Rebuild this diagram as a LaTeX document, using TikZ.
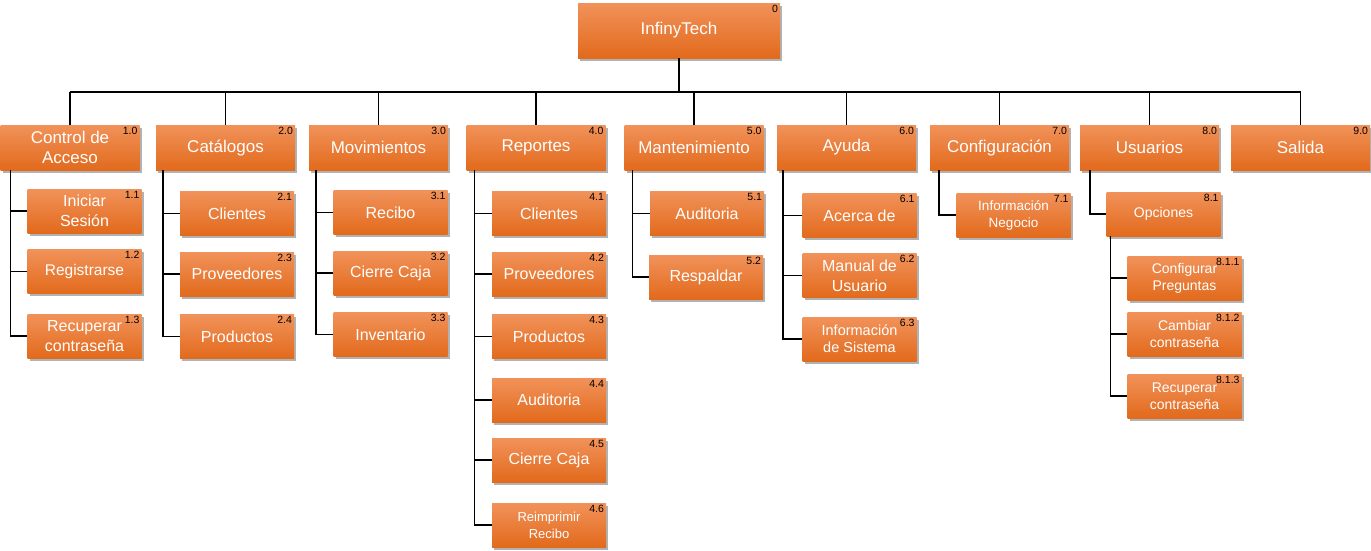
\documentclass[tikz,border=0pt]{standalone}
\usepackage{fontspec}
\setmainfont{Liberation Sans}
\usetikzlibrary{shadows,positioning}
\definecolor{orangetop}{RGB}{241,146,90}
\definecolor{orangemid}{RGB}{244,124,40}
\definecolor{orangebot}{RGB}{226,106,28}
\tikzset{
  menubox/.style={
    rectangle,
    top color=orangetop,
    middle color=orangemid,
    bottom color=orangebot,
    text=white,
    align=center,
    inner sep=1pt,
    drop shadow={shadow xshift=2pt,shadow yshift=-2.5pt,opacity=0.3,fill=black},
    font=\fontsize{16}{20}\selectfont
  },
  rootbox/.style={menubox,minimum width=202pt,minimum height=55pt,font=\fontsize{17}{20}\selectfont},
  mainbox/.style={menubox,minimum width=139pt,minimum height=45pt,font=\fontsize{17}{20}\selectfont},
  subbox/.style={menubox,minimum width=114pt,minimum height=44pt},
  smalltext/.style={font=\fontsize{#1}{17}\selectfont},
  numtag/.style={font=\fontsize{10.5}{11}\selectfont,text=black,inner sep=2pt},
  num/.style={label={[numtag,anchor=north east]north east:#1}},
  link/.style={draw=black,line width=1.6pt}
}

\begin{document}
\begin{tikzpicture}[x=1pt,y=-1pt]
  \useasboundingbox (0,0) rectangle (1371,550);

  % top
  \node[rootbox,num=0] (root) at (679,30.5) {InfinyTech};

  % first level
  \node[mainbox,num=1.0] (acc) at (70,147.5) {Control de\\Acceso};
  \node[mainbox,num=2.0] (cat) at (225.5,147.5) {Catálogos};
  \node[mainbox,num=3.0] (mov) at (378.5,147.5) {Movimientos};
  \node[mainbox,num=4.0] (rep) at (536,147.5) {Reportes};
  \node[mainbox,num=5.0] (man) at (694,147.5) {Mantenimiento};
  \node[mainbox,num=6.0] (ayu) at (846.5,147.5) {Ayuda};
  \node[mainbox,num=7.0] (con) at (999.5,147.5) {Configuración};
  \node[mainbox,num=8.0] (usu) at (1149.5,147.5) {Usuarios};
  \node[mainbox,num=9.0] (sal) at (1300.5,147.5) {Salida};

  % second level
  \node[subbox,num=1.1] (acc1) at (84.5,211) {Iniciar\\Sesión};
  \node[subbox,num=1.2,smalltext=15.5] (acc2) at (84.5,271.5) {Registrarse};
  \node[subbox,num=1.3] (acc3) at (84.5,336) {Recuperar\\contraseña};

  \node[subbox,num=2.1] (cat1) at (237,213.5) {Clientes};
  \node[subbox,num=2.3] (cat2) at (237,274) {Proveedores};
  \node[subbox,num=2.4] (cat3) at (237,336.5) {Productos};

  \node[subbox,num=3.1] (mov1) at (390.5,212.5) {Recibo};
  \node[subbox,num=3.2] (mov2) at (390.5,273) {Cierre Caja};
  \node[subbox,num=3.3] (mov3) at (390.5,334.5) {Inventario};

  \node[subbox,num=4.1] (rep1) at (549,213.5) {Clientes};
  \node[subbox,num=4.2] (rep2) at (549,274) {Proveedores};
  \node[subbox,num=4.3] (rep3) at (549,336.5) {Productos};
  \node[subbox,num=4.4] (rep4) at (549,400) {Auditoria};
  \node[subbox,num=4.5] (rep5) at (549,460) {Cierre Caja};
  \node[subbox,num=4.6,smalltext=13] (rep6) at (549,525) {Reimprimir\\Recibo};

  \node[subbox,num=5.1] (man1) at (707,213.5) {Auditoria};
  \node[subbox,num=5.2] (man2) at (706,277) {Respaldar};

  \node[subbox,num=6.1] (ayu1) at (859.5,215.5) {Acerca de};
  \node[subbox,num=6.2] (ayu2) at (859.5,275.5) {Manual de\\Usuario};
  \node[subbox,num=6.3,smalltext=14.5] (ayu3) at (859.5,339) {Información\\de Sistema};

  \node[subbox,num=7.1,smalltext=13.5] (con1) at (1013.5,215) {Información\\Negocio};

  \node[subbox,num=8.1,smalltext=14] (usu1) at (1163.5,214) {Opciones};

  % third level
  \node[subbox,num=8.1.1,smalltext=14] (opc1) at (1184.5,278) {Configurar\\Preguntas};
  \node[subbox,num=8.1.2,smalltext=14] (opc2) at (1184.5,334) {Cambiar\\contraseña};
  \node[subbox,num=8.1.3,smalltext=14] (opc3) at (1184.5,396) {Recuperar\\contraseña};

  % connectors
  \draw[link] (root.south) -- ++(0,34) coordinate (bus);
  \draw[link] (bus -| acc.north) -- (bus -| sal.north);
  \foreach \n in {acc,cat,mov,rep,man,ayu,con,usu,sal}
    \draw[link] (bus -| \n.north) -- (\n.north);

  \foreach \p/\k/\d in {acc/3/10,cat/3/7,mov/3/7,rep/6/8,man/2/8,ayu/3/6,con/1/9,usu/1/10}
    \foreach \i in {1,...,\k}
      \draw[link] ([xshift=\d pt]\p.south west) |- (\p\i.west);
  \foreach \i in {1,2,3}
    \draw[link] ([xshift=4pt]usu1.south west) |- (opc\i.west);
\end{tikzpicture}
\end{document}
